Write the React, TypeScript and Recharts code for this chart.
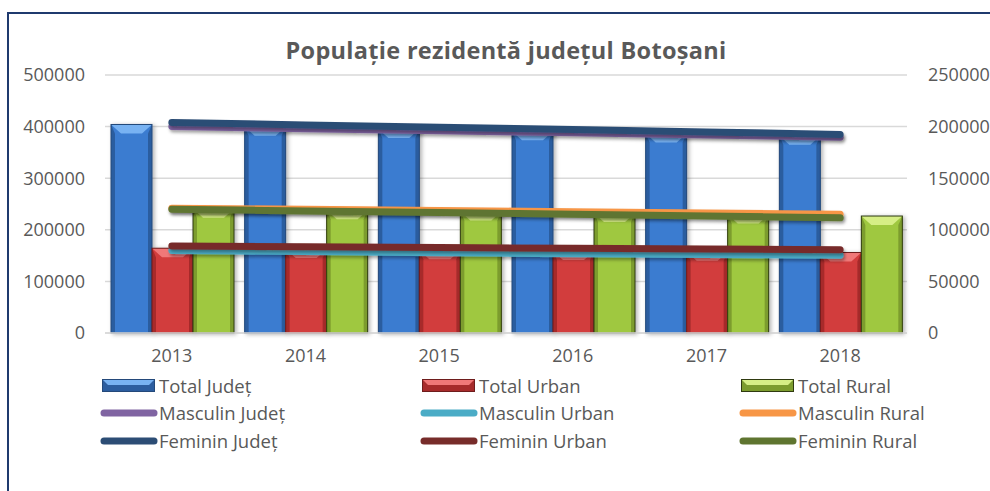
import { Bar, CartesianGrid, ComposedChart, Legend, Line, XAxis, YAxis } from "recharts";

const years = ["2013", "2014", "2015", "2016", "2017", "2018"];

// bars, left axis
const totalJudet = [404100, 399600, 395300, 391200, 386600, 382100];
const totalUrban = [164300, 162600, 160600, 158900, 157400, 156000];
const totalRural = [240900, 238100, 235300, 232600, 229700, 226700];

// lines, right axis
const masculinJudet = [200100, 198000, 196000, 194000, 191800, 189700];
const masculinUrban = [80000, 79000, 77800, 76800, 76000, 75300];
const masculinRural = [121000, 119800, 118600, 117500, 116300, 115100];
const femininJudet = [204000, 201600, 199300, 197200, 194800, 192400];
const femininUrban = [84300, 83600, 82800, 82100, 81400, 80700];
const femininRural = [119900, 118300, 116700, 115100, 113400, 111600];

const leftTicks = [0, 100000, 200000, 300000, 400000, 500000];
const rightTicks = [0, 50000, 100000, 150000, 200000, 250000];

const FONT = "'Open Sans', Lato, sans-serif";
const TEXT = "#595959";

type Bevel = { light: string; main: string; side: string; edge: string };

const bevels: Record<string, Bevel> = {
  "#3a7bd0": { light: "#78b2f2", main: "#3a7bd0", side: "#2c5d9f", edge: "#24497a" },
  "#d23c3c": { light: "#f07878", main: "#d23c3c", side: "#a72b2b", edge: "#6e1c1c" },
  "#9fc840": { light: "#d6ee86", main: "#9fc840", side: "#7c9c2e", edge: "#2f3a10" },
};

const series = [
  { key: "tj", name: "Total Județ", kind: "bar", color: "#3a7bd0", values: totalJudet },
  { key: "tu", name: "Total Urban", kind: "bar", color: "#d23c3c", values: totalUrban },
  { key: "tr", name: "Total Rural", kind: "bar", color: "#9fc840", values: totalRural },
  { key: "mj", name: "Masculin Județ", kind: "line", color: "#8064a2", values: masculinJudet },
  { key: "mu", name: "Masculin Urban", kind: "line", color: "#4bacc6", values: masculinUrban },
  { key: "mr", name: "Masculin Rural", kind: "line", color: "#f79646", values: masculinRural },
  { key: "fj", name: "Feminin Județ", kind: "line", color: "#2c4d75", values: femininJudet },
  { key: "fu", name: "Feminin Urban", kind: "line", color: "#772c2a", values: femininUrban },
  { key: "fr", name: "Feminin Rural", kind: "line", color: "#5f7530", values: femininRural },
];

const data = years.map((year, i) => {
  const row: Record<string, string | number> = { year };
  for (const s of series) row[s.key] = s.values[i];
  return row;
});

// Excel-style bevelled column: light top facet, darker sides, thin outline.
function BevelBar(props: any) {
  const { x, y, width: w, height: h, fill } = props;
  if (x == null || y == null || !h) return null;
  const c = bevels[fill] ?? bevels["#3a7bd0"];
  const b = Math.min(9, h / 2);
  const s = 4;
  return (
    <g filter="url(#barShadow)">
      <rect x={x} y={y} width={w} height={h} fill={c.main} />
      <polygon points={`${x},${y} ${x + s},${y + b} ${x + s},${y + h} ${x},${y + h}`} fill={c.side} />
      <polygon
        points={`${x + w},${y} ${x + w - s},${y + b} ${x + w - s},${y + h} ${x + w},${y + h}`}
        fill={c.side}
      />
      <polygon
        points={`${x},${y} ${x + w},${y} ${x + w - s - 6},${y + b} ${x + s + 6},${y + b}`}
        fill={c.light}
      />
      <rect x={x} y={y} width={w} height={h} fill="none" stroke={c.edge} strokeWidth={1} />
    </g>
  );
}

function LegendGrid() {
  const cols = [102, 422, 741];
  const rows = [12, 39, 67];
  return (
    <div style={{ position: "relative", width: 990, height: 90, fontFamily: FONT }}>
      {series.map((s, i) => {
        const left = cols[i % 3];
        const top = rows[Math.floor(i / 3)];
        const c = bevels[s.color];
        return (
          <div key={s.key}>
            {s.kind === "bar" ? (
              <svg style={{ position: "absolute", left, top: top - 7 }} width={54} height={14}>
                <rect x={0.5} y={0.5} width={52} height={12} fill={c.side} stroke={c.edge} />
                <polygon points="1,1 52,1 47,6 6,6" fill={c.light} />
              </svg>
            ) : (
              <svg style={{ position: "absolute", left: left - 2, top: top - 5 }} width={58} height={10}>
                <line x1={4} y1={5} x2={54} y2={5} stroke={s.color} strokeWidth={7} strokeLinecap="round" />
              </svg>
            )}
            <span
              style={{
                position: "absolute",
                left: left + 57,
                top: top - 13,
                fontSize: 18.5,
                lineHeight: "26px",
                color: TEXT,
                whiteSpace: "nowrap",
              }}
            >
              {s.name}
            </span>
          </div>
        );
      })}
    </div>
  );
}

export default function App() {
  const tick = { fill: TEXT, fontSize: 18, fontFamily: FONT };
  return (
    <div style={{ position: "fixed", left: 0, top: 0, width: 990, height: 491, overflow: "hidden", background: "#fff" }}>
      <div
        style={{
          position: "absolute",
          left: 7,
          top: 12,
          width: 1100,
          height: 600,
          border: "2.5px solid #1f3a6e",
        }}
      />
      <div
        style={{
          position: "absolute",
          left: 0,
          top: 34,
          width: 1012,
          textAlign: "center",
          fontFamily: FONT,
          fontWeight: 700,
          fontSize: 23.5,
          letterSpacing: 0.3,
          color: TEXT,
        }}
      >
        Populație rezidentă județul Botoșani
      </div>
      <div style={{ position: "absolute", left: 0, top: 0 }}>
        <ComposedChart
          width={990}
          height={491}
          data={data}
          margin={{ top: 75, right: 0, left: 45, bottom: 38 }}
          barCategoryGap={6}
          barGap={0}
        >
          <defs>
            <filter id="barShadow" x="-20%" y="-10%" width="150%" height="130%">
              <feDropShadow dx={2} dy={1} stdDeviation={2} floodColor="#000" floodOpacity={0.3} />
            </filter>
            <filter id="lineShadow" x="-5%" y="-100%" width="110%" height="400%">
              <feDropShadow dx={1.5} dy={2.5} stdDeviation={1.5} floodColor="#000" floodOpacity={0.35} />
            </filter>
          </defs>
          <CartesianGrid vertical={false} stroke="#d9d9d9" strokeWidth={1.5} yAxisId="left" />
          <XAxis
            dataKey="year"
            tick={tick}
            tickLine={false}
            tickSize={0}
            tickMargin={16}
            axisLine={{ stroke: "#d9d9d9", strokeWidth: 1.5 }}
          />
          <YAxis
            yAxisId="left"
            domain={[0, 500000]}
            ticks={leftTicks}
            tick={tick}
            tickLine={false}
            tickSize={0}
            tickMargin={20}
            axisLine={false}
            width={60}
            interval={0}
          />
          <YAxis
            yAxisId="right"
            orientation="right"
            domain={[0, 250000]}
            ticks={rightTicks}
            tick={{ ...tick, textAnchor: "start" }}
            tickLine={false}
            tickSize={0}
            tickMargin={21}
            axisLine={false}
            width={83}
            interval={0}
          />
          <Legend content={<LegendGrid />} wrapperStyle={{ left: 0, top: 374, width: 990 }} />
          {series
            .filter((s) => s.kind === "bar")
            .map((s) => (
              <Bar
                key={s.key}
                yAxisId="left"
                dataKey={s.key}
                name={s.name}
                fill={s.color}
                shape={<BevelBar />}
                isAnimationActive={false}
              />
            ))}
          {series
            .filter((s) => s.kind === "line")
            .map((s) => (
              <Line
                key={s.key}
                yAxisId="right"
                type="linear"
                dataKey={s.key}
                name={s.name}
                stroke={s.color}
                strokeWidth={7}
                strokeLinecap="round"
                filter="url(#lineShadow)"
                dot={false}
                activeDot={false}
                isAnimationActive={false}
              />
            ))}
        </ComposedChart>
      </div>
    </div>
  );
}
